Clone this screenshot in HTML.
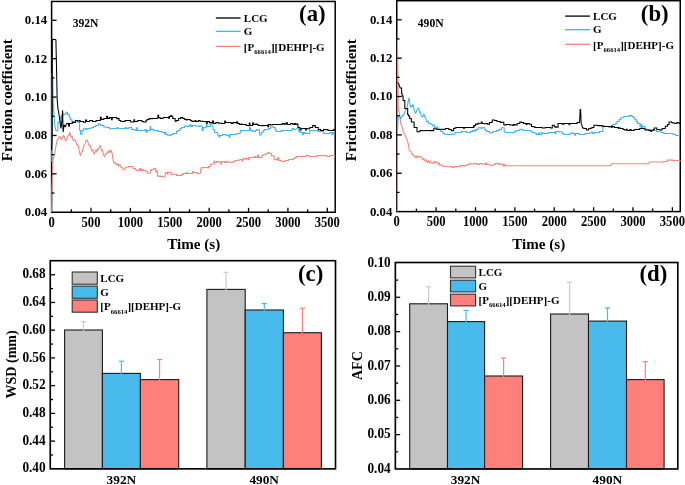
<!DOCTYPE html>
<html><head><meta charset="utf-8"><style>html,body{margin:0;padding:0;background:#fff;overflow:hidden}svg{display:block;will-change:transform}</style></head>
<body><svg width="685" height="485" viewBox="0 0 685 485" font-family="'Liberation Serif', serif" font-weight="bold">
<rect width="685" height="485" fill="#fff"/>
<rect x="51.6" y="1.45" width="283.60" height="210.80" fill="none" stroke="#000" stroke-width="1.5"/>
<path d="M51.60,212.00 L51.90,189.00 L52.80,163.00 L53.61,157.52 L54.55,155.16 L55.40,149.40 L56.06,145.41 L57.30,139.50 L58.13,139.18 L59.10,137.00 L60.12,136.75 L61.00,139.50 L62.18,138.21 L63.50,135.20 L64.88,138.22 L65.30,140.70 L66.50,139.80 L67.20,138.30 L68.33,134.57 L68.96,135.57 L69.70,132.10 L70.90,137.00 L72.15,136.48 L73.39,140.96 L74.10,139.90 L75.42,140.44 L76.86,144.98 L77.80,144.50 L78.52,146.58 L79.99,154.35 L80.60,155.70 L81.47,152.06 L82.42,151.55 L83.54,146.12 L84.96,144.80 L86.20,139.90 L87.57,140.58 L88.77,145.29 L90.15,145.27 L90.80,148.20 L91.91,151.32 L92.70,149.49 L93.82,153.67 L94.50,153.80 L95.87,149.98 L96.55,152.31 L97.52,148.60 L98.38,149.55 L100.10,145.50 L100.74,145.95 L101.38,150.47 L102.28,149.85 L103.80,155.70 L104.85,156.70 L105.73,153.60 L106.87,153.95 L107.65,151.73 L108.80,152.65 L109.44,149.80 L110.32,152.51 L111.20,150.10 L112.14,153.34 L113.21,160.77 L114.00,163.10 L115.10,162.25 L116.55,165.38 L117.54,163.18 L118.35,165.89 L119.83,164.42 L120.50,165.90 L121.11,167.77 L122.23,167.62 L123.30,169.60 L124.47,169.61 L125.63,167.26 L128.27,167.26 L128.27,166.50 L128.70,166.50 L128.70,166.80 L129.56,166.80 L129.56,166.50 L132.96,166.50 L132.96,168.50 L135.36,168.50 L135.36,169.50 L136.10,169.50 L136.10,170.50 L137.90,170.50 L137.90,170.50 L139.72,170.50 L139.72,170.50 L139.72,168.55 L140.45,168.55 L140.45,170.50 L141.70,170.50 L141.70,169.60 L143.14,169.60 L143.14,170.50 L145.83,170.50 L145.83,171.50 L147.30,171.50 L147.30,173.30 L150.35,173.30 L150.35,170.50 L151.61,170.50 L151.61,169.50 L153.80,169.50 L153.80,168.60 L155.82,168.60 L155.82,172.50 L155.82,170.55 L156.92,170.55 L156.92,172.50 L157.50,172.50 L157.50,176.10 L160.63,176.10 L160.63,176.50 L161.66,176.50 L161.66,176.50 L163.00,176.50 L163.00,177.00 L165.20,177.00 L165.20,173.50 L165.80,173.50 L165.80,172.40 L167.38,172.40 L167.38,172.50 L167.38,174.22 L167.99,174.22 L167.99,172.50 L171.33,172.50 L171.33,174.50 L173.20,174.50 L173.20,174.20 L176.57,174.20 L176.57,175.50 L179.38,175.50 L179.38,175.50 L180.70,175.50 L180.70,175.10 L182.28,175.10 L182.28,174.50 L183.26,174.50 L183.26,173.50 L186.20,173.50 L186.20,172.40 L187.12,172.40 L187.12,173.50 L190.42,173.50 L190.42,173.50 L192.77,173.50 L192.77,171.50 L193.60,171.50 L193.60,172.40 L195.21,172.40 L195.21,172.50 L197.13,172.50 L197.13,173.50 L199.20,173.50 L199.20,173.30 L200.68,173.30 L200.68,169.50 L201.10,169.50 L201.10,167.70 L202.85,167.70 L202.85,167.50 L203.70,167.50 L203.70,167.70 L204.96,167.70 L204.96,167.50 L207.94,167.50 L207.94,166.50 L207.94,168.06 L208.70,168.06 L208.70,166.50 L210.23,166.50 L210.23,164.50 L211.10,164.50 L211.10,164.00 L214.00,164.00 L214.00,162.50 L214.00,160.95 L214.63,160.95 L214.63,162.50 L216.73,162.50 L216.73,161.50 L218.60,161.50 L218.60,162.20 L220.72,162.20 L220.72,161.50 L220.72,163.95 L221.67,163.95 L221.67,161.50 L223.45,161.50 L223.45,161.50 L224.58,161.50 L224.58,162.50 L226.41,162.50 L226.41,161.50 L227.80,161.50 L227.80,162.20 L230.23,162.20 L230.23,162.50 L233.20,162.50 L233.20,161.50 L235.00,161.50 L235.00,160.50 L237.10,160.50 L237.10,160.30 L239.77,160.30 L239.77,159.50 L242.02,159.50 L242.02,159.50 L242.02,161.32 L242.70,161.32 L242.70,159.50 L243.57,159.50 L243.57,158.50 L245.88,158.50 L245.88,159.50 L246.40,159.50 L246.40,158.40 L248.63,158.40 L248.63,157.50 L248.63,159.82 L249.29,159.82 L249.29,157.50 L251.68,157.50 L251.68,157.50 L254.57,157.50 L254.57,156.50 L255.70,156.50 L255.70,157.50 L257.42,157.50 L257.42,157.50 L257.42,155.01 L258.52,155.01 L258.52,157.50 L261.90,157.50 L261.90,155.50 L263.10,155.50 L263.10,154.70 L265.97,154.70 L265.97,153.50 L267.06,153.50 L267.06,153.50 L268.03,153.50 L268.03,152.50 L268.60,152.50 L268.60,152.90 L270.05,152.90 L270.05,153.50 L271.40,153.50 L271.40,155.70 L274.20,155.70 L274.20,159.70 L276.06,159.70 L276.06,159.50 L277.81,159.50 L277.81,160.50 L277.81,157.57 L278.66,157.57 L278.66,160.50 L281.10,160.50 L281.10,161.30 L282.33,161.30 L282.33,161.50 L284.95,161.50 L284.95,160.50 L287.49,160.50 L287.49,160.50 L288.60,160.50 L288.60,159.40 L291.42,159.40 L291.42,159.50 L293.42,159.50 L293.42,158.50 L294.94,158.50 L294.94,157.50 L296.59,157.50 L296.59,156.50 L299.70,156.50 L299.70,156.60 L301.30,156.60 L301.30,156.50 L304.40,156.50 L304.40,156.50 L305.79,156.50 L305.79,155.50 L307.62,155.50 L307.62,155.50 L309.29,155.50 L309.29,156.50 L312.77,156.50 L312.77,156.50 L314.83,156.50 L314.83,156.50 L317.14,156.50 L317.14,155.50 L320.25,155.50 L320.25,155.50 L322.00,155.50 L322.00,155.70 L324.06,155.70 L324.06,155.50 L326.80,155.50 L326.80,156.50 L329.91,156.50 L329.91,155.50 L331.40,155.50 L331.40,155.50 L334.60,155.50 L334.60,156.60" fill="none" stroke="#F4857D" stroke-width="1.05" stroke-linejoin="miter" stroke-miterlimit="2"/>
<path d="M51.80,162.00 L52.10,73.80 L52.60,73.80 L53.20,102.40 L54.80,125.50 L56.00,130.80 L57.90,130.80 L57.90,122.20 L60.40,122.20 L60.40,117.20 L61.35,117.20 L61.35,115.50 L62.90,115.50 L62.90,114.10 L65.90,114.10 L65.90,112.30 L67.53,112.30 L67.53,114.50 L68.40,114.50 L68.40,114.80 L69.63,114.80 L69.63,117.50 L70.30,117.50 L70.30,119.70 L72.00,119.70 L72.00,121.60 L74.10,121.60 L74.10,121.30 L76.37,121.30 L76.37,121.50 L77.27,121.50 L77.27,121.50 L77.80,121.50 L77.80,122.30 L79.63,122.30 L79.63,130.50 L80.60,130.50 L80.60,134.30 L82.04,134.30 L82.04,130.50 L83.40,130.50 L83.40,128.80 L85.58,128.80 L85.58,129.50 L86.87,129.50 L86.87,128.50 L89.65,128.50 L89.65,128.50 L90.80,128.50 L90.80,127.80 L92.56,127.80 L92.56,127.50 L93.79,127.50 L93.79,126.50 L95.84,126.50 L95.84,125.50 L98.20,125.50 L98.20,124.10 L100.35,124.10 L100.35,125.50 L103.80,125.50 L103.80,126.90 L107.03,126.90 L107.03,127.50 L109.40,127.50 L109.40,128.80 L112.15,128.80 L112.15,128.50 L113.83,128.50 L113.83,128.50 L116.80,128.50 L116.80,127.80 L118.32,127.80 L118.32,128.50 L121.71,128.50 L121.71,128.50 L123.91,128.50 L123.91,128.50 L125.00,128.50 L125.00,127.80 L126.36,127.80 L126.36,128.50 L128.84,128.50 L128.84,127.50 L131.60,127.50 L131.60,129.50 L134.30,129.50 L134.30,129.70 L135.26,129.70 L135.26,130.50 L136.67,130.50 L136.67,130.50 L136.67,127.75 L137.42,127.75 L137.42,130.50 L138.79,130.50 L138.79,130.50 L141.70,130.50 L141.70,130.60 L142.59,130.60 L142.59,130.50 L145.20,130.50 L145.20,129.50 L146.07,129.50 L146.07,130.50 L146.07,132.18 L147.23,132.18 L147.23,130.50 L150.02,130.50 L150.02,129.50 L150.02,126.83 L150.77,126.83 L150.77,129.50 L152.80,129.50 L152.80,129.30 L153.61,129.30 L153.61,130.50 L156.43,130.50 L156.43,130.50 L158.06,130.50 L158.06,131.50 L158.99,131.50 L158.99,131.50 L161.46,131.50 L161.46,131.50 L162.10,131.50 L162.10,132.50 L164.76,132.50 L164.76,134.50 L164.76,132.24 L165.82,132.24 L165.82,134.50 L167.70,134.50 L167.70,135.30 L169.39,135.30 L169.39,135.50 L170.89,135.50 L170.89,134.50 L173.20,134.50 L173.20,133.40 L176.59,133.40 L176.59,131.50 L177.74,131.50 L177.74,130.50 L179.17,130.50 L179.17,130.50 L180.06,130.50 L180.06,128.50 L180.70,128.50 L180.70,128.80 L181.72,128.80 L181.72,127.50 L184.40,127.50 L184.40,126.00 L186.17,126.00 L186.17,126.50 L189.00,126.50 L189.00,125.50 L190.23,125.50 L190.23,126.50 L190.23,124.87 L190.94,124.87 L190.94,126.50 L192.37,126.50 L192.37,125.50 L194.42,125.50 L194.42,125.50 L195.50,125.50 L195.50,126.00 L198.75,126.00 L198.75,126.50 L200.00,126.50 L200.00,126.00 L202.18,126.00 L202.18,127.50 L202.18,130.37 L203.13,130.37 L203.13,127.50 L203.70,127.50 L203.70,127.80 L206.29,127.80 L206.29,126.50 L206.29,124.11 L207.06,124.11 L207.06,126.50 L210.20,126.50 L210.20,124.10 L212.01,124.10 L212.01,126.50 L213.00,126.50 L213.00,129.70 L214.63,129.70 L214.63,132.50 L215.47,132.50 L215.47,132.50 L217.60,132.50 L217.60,134.90 L218.96,134.90 L218.96,135.50 L218.96,137.02 L219.75,137.02 L219.75,135.50 L222.50,135.50 L222.50,134.50 L223.61,134.50 L223.61,134.50 L224.79,134.50 L224.79,134.50 L226.00,134.50 L226.00,135.30 L227.13,135.30 L227.13,135.50 L228.99,135.50 L228.99,134.50 L228.99,137.14 L230.02,137.14 L230.02,134.50 L232.17,134.50 L232.17,134.50 L235.30,134.50 L235.30,134.30 L236.83,134.30 L236.83,133.50 L240.20,133.50 L240.20,131.50 L240.80,131.50 L240.80,130.60 L242.40,130.60 L242.40,130.50 L243.90,130.50 L243.90,130.50 L247.18,130.50 L247.18,130.50 L248.24,130.50 L248.24,130.50 L249.44,130.50 L249.44,130.50 L249.44,127.66 L250.45,127.66 L250.45,130.50 L252.00,130.50 L252.00,130.60 L252.90,130.60 L252.90,131.50 L255.61,131.50 L255.61,130.50 L256.88,130.50 L256.88,129.50 L257.50,129.50 L257.50,129.70 L259.40,129.70 L259.40,134.90 L261.34,134.90 L261.34,132.50 L263.10,132.50 L263.10,130.60 L264.36,130.60 L264.36,129.50 L265.79,129.50 L265.79,129.50 L268.65,129.50 L268.65,128.50 L270.50,128.50 L270.50,126.90 L273.49,126.90 L273.49,127.50 L274.20,127.50 L274.20,127.50 L275.14,127.50 L275.14,129.50 L276.10,129.50 L276.10,131.50 L278.01,131.50 L278.01,131.50 L280.29,131.50 L280.29,131.50 L281.10,131.50 L281.10,130.60 L284.11,130.60 L284.11,130.50 L285.42,130.50 L285.42,130.50 L288.60,130.50 L288.60,130.50 L290.81,130.50 L290.81,130.50 L292.09,130.50 L292.09,128.50 L293.48,128.50 L293.48,129.50 L294.86,129.50 L294.86,129.50 L296.00,129.50 L296.00,128.80 L298.80,128.80 L298.80,131.60 L300.34,131.60 L300.34,132.50 L302.46,132.50 L302.46,132.50 L302.46,134.70 L303.37,134.70 L303.37,132.50 L304.64,132.50 L304.64,133.50 L305.30,133.50 L305.30,133.00 L307.05,133.00 L307.05,133.50 L309.65,133.50 L309.65,130.50 L312.70,130.50 L312.70,130.60 L315.99,130.60 L315.99,130.50 L318.03,130.50 L318.03,131.50 L319.77,131.50 L319.77,131.50 L322.00,131.50 L322.00,131.60 L323.80,131.60 L323.80,133.40 L326.29,133.40 L326.29,133.50 L327.23,133.50 L327.23,133.50 L329.86,133.50 L329.86,132.50 L331.92,132.50 L331.92,132.50 L331.92,134.82 L332.64,134.82 L332.64,132.50 L333.10,132.50 L333.10,133.40 L334.60,134.30" fill="none" stroke="#3DB3EA" stroke-width="1.05" stroke-linejoin="miter" stroke-miterlimit="2"/>
<path d="M51.60,150.00 L52.20,136.00 L52.30,39.40 L53.46,39.40 L53.46,39.50 L54.95,39.50 L54.95,39.50 L55.90,39.50 L55.90,39.40 L57.20,100.00 L58.00,109.00 L59.10,114.80 L60.40,124.70 L61.00,128.40 L61.90,120.90 L62.60,110.40 L63.10,132.10 L64.10,124.70 L65.30,127.10 L66.60,123.40 L68.40,123.40 L68.40,125.90 L69.45,125.90 L69.45,123.50 L70.30,123.50 L70.30,123.40 L72.30,123.40 L72.30,122.30 L73.11,122.30 L73.11,122.50 L74.52,122.50 L74.52,122.50 L75.41,122.50 L75.41,120.50 L77.50,120.50 L77.50,120.90 L79.33,120.90 L79.33,120.50 L80.21,120.50 L80.21,121.50 L82.35,121.50 L82.35,121.50 L83.40,121.50 L83.40,122.30 L85.44,122.30 L85.44,121.50 L85.44,119.96 L86.64,119.96 L86.64,121.50 L89.76,121.50 L89.76,120.50 L92.51,120.50 L92.51,121.50 L94.45,121.50 L94.45,121.50 L96.07,121.50 L96.07,120.50 L98.20,120.50 L98.20,120.40 L100.36,120.40 L100.36,119.50 L100.36,117.23 L101.21,117.23 L101.21,119.50 L103.80,119.50 L103.80,118.50 L106.70,118.50 L106.70,118.50 L106.70,116.19 L107.61,116.19 L107.61,118.50 L109.40,118.50 L109.40,117.60 L111.52,117.60 L111.52,117.50 L111.52,119.64 L112.22,119.64 L112.22,117.50 L113.64,117.50 L113.64,117.50 L116.80,117.50 L116.80,118.60 L119.08,118.60 L119.08,120.50 L120.50,120.50 L120.50,121.30 L122.25,121.30 L122.25,121.50 L125.00,121.50 L125.00,120.40 L127.77,120.40 L127.77,120.50 L130.60,120.50 L130.60,121.90 L133.93,121.90 L133.93,121.50 L133.93,119.65 L134.57,119.65 L134.57,121.50 L137.72,121.50 L137.72,120.50 L139.80,120.50 L139.80,120.40 L141.91,120.40 L141.91,121.50 L143.60,121.50 L143.60,121.90 L146.08,121.90 L146.08,120.50 L146.96,120.50 L146.96,119.50 L149.10,119.50 L149.10,118.60 L152.22,118.60 L152.22,118.50 L155.23,118.50 L155.23,118.50 L157.85,118.50 L157.85,117.50 L157.85,115.22 L158.62,115.22 L158.62,117.50 L160.14,117.50 L160.14,118.50 L162.10,118.50 L162.10,118.20 L163.35,118.20 L163.35,117.50 L165.93,117.50 L165.93,117.50 L168.62,117.50 L168.62,116.50 L168.62,118.30 L169.47,118.30 L169.47,116.50 L170.78,116.50 L170.78,115.50 L171.40,115.50 L171.40,116.30 L172.76,116.30 L172.76,118.50 L173.62,118.50 L173.62,118.50 L175.10,118.50 L175.10,121.30 L176.33,121.30 L176.33,120.50 L178.60,120.50 L178.60,118.50 L180.70,118.50 L180.70,117.60 L182.89,117.60 L182.89,118.50 L184.76,118.50 L184.76,119.50 L186.20,119.50 L186.20,120.00 L187.16,120.00 L187.16,119.50 L190.32,119.50 L190.32,120.50 L191.96,120.50 L191.96,121.50 L193.60,121.50 L193.60,121.30 L195.08,121.30 L195.08,120.50 L195.98,120.50 L195.98,121.50 L198.32,121.50 L198.32,120.50 L200.00,120.50 L200.00,121.30 L202.70,121.30 L202.70,121.50 L204.44,121.50 L204.44,121.50 L206.41,121.50 L206.41,121.50 L206.41,123.18 L207.31,123.18 L207.31,121.50 L209.30,121.50 L209.30,122.60 L212.45,122.60 L212.45,123.50 L212.45,121.09 L213.54,121.09 L213.54,123.50 L215.86,123.50 L215.86,122.50 L217.38,122.50 L217.38,122.50 L218.60,122.50 L218.60,123.20 L221.87,123.20 L221.87,123.50 L224.74,123.50 L224.74,122.50 L224.74,121.09 L225.44,121.09 L225.44,122.50 L228.70,122.50 L228.70,122.50 L231.12,122.50 L231.12,123.50 L232.84,123.50 L232.84,122.50 L233.40,122.50 L233.40,122.60 L236.78,122.60 L236.78,123.50 L236.78,121.78 L237.62,121.78 L237.62,123.50 L239.45,123.50 L239.45,124.50 L240.80,124.50 L240.80,124.10 L241.91,124.10 L241.91,124.50 L242.92,124.50 L242.92,124.50 L246.29,124.50 L246.29,125.50 L248.20,125.50 L248.20,125.60 L249.31,125.60 L249.31,125.50 L249.31,123.12 L249.92,123.12 L249.92,125.50 L252.53,125.50 L252.53,124.50 L252.53,122.96 L253.60,122.96 L253.60,124.50 L255.70,124.50 L255.70,124.10 L256.94,124.10 L256.94,124.50 L258.17,124.50 L258.17,125.50 L261.20,125.50 L261.20,125.60 L264.18,125.60 L264.18,125.50 L266.46,125.50 L266.46,125.50 L267.82,125.50 L267.82,124.50 L267.82,126.74 L268.62,126.74 L268.62,124.50 L270.50,124.50 L270.50,125.00 L272.38,125.00 L272.38,124.50 L274.80,124.50 L274.80,124.50 L277.72,124.50 L277.72,124.50 L280.86,124.50 L280.86,124.50 L282.16,124.50 L282.16,123.50 L283.93,123.50 L283.93,124.50 L284.90,124.50 L284.90,123.80 L286.31,123.80 L286.31,124.50 L286.31,122.79 L287.42,122.79 L287.42,124.50 L290.63,124.50 L290.63,123.50 L292.90,123.50 L292.90,124.50 L294.37,124.50 L294.37,123.50 L295.36,123.50 L295.36,124.50 L296.00,124.50 L296.00,124.10 L297.90,124.10 L297.90,127.50 L299.97,127.50 L299.97,128.50 L299.97,129.90 L301.14,129.90 L301.14,128.50 L302.40,128.50 L302.40,128.50 L305.42,128.50 L305.42,128.50 L305.42,129.96 L306.15,129.96 L306.15,128.50 L307.10,128.50 L307.10,128.80 L309.85,128.80 L309.85,127.50 L312.70,127.50 L312.70,125.60 L315.31,125.60 L315.31,127.50 L318.30,127.50 L318.30,129.70 L319.65,129.70 L319.65,129.50 L320.59,129.50 L320.59,130.50 L323.49,130.50 L323.49,129.50 L325.70,129.50 L325.70,129.70 L327.18,129.70 L327.18,129.50 L328.00,129.50 L328.00,130.50 L330.12,130.50 L330.12,130.50 L333.55,130.50 L333.55,129.50 L334.60,129.50 L334.60,130.60" fill="none" stroke="#000" stroke-width="1.05" stroke-linejoin="miter" stroke-miterlimit="2"/>
<text transform="translate(47.20,216.15) scale(1,1.04)" font-size="12.8" text-anchor="end">0.04</text>
<line x1="51.60" y1="193.06" x2="54.40" y2="193.06" stroke="#000" stroke-width="1.3"/>
<line x1="51.60" y1="173.86" x2="56.60" y2="173.86" stroke="#000" stroke-width="1.3"/>
<text transform="translate(47.20,177.76) scale(1,1.04)" font-size="12.8" text-anchor="end">0.06</text>
<line x1="51.60" y1="154.67" x2="54.40" y2="154.67" stroke="#000" stroke-width="1.3"/>
<line x1="51.60" y1="135.47" x2="56.60" y2="135.47" stroke="#000" stroke-width="1.3"/>
<text transform="translate(47.20,139.37) scale(1,1.04)" font-size="12.8" text-anchor="end">0.08</text>
<line x1="51.60" y1="116.28" x2="54.40" y2="116.28" stroke="#000" stroke-width="1.3"/>
<line x1="51.60" y1="97.08" x2="56.60" y2="97.08" stroke="#000" stroke-width="1.3"/>
<text transform="translate(47.20,100.98) scale(1,1.04)" font-size="12.8" text-anchor="end">0.10</text>
<line x1="51.60" y1="77.88" x2="54.40" y2="77.88" stroke="#000" stroke-width="1.3"/>
<line x1="51.60" y1="58.69" x2="56.60" y2="58.69" stroke="#000" stroke-width="1.3"/>
<text transform="translate(47.20,62.59) scale(1,1.04)" font-size="12.8" text-anchor="end">0.12</text>
<line x1="51.60" y1="39.49" x2="54.40" y2="39.49" stroke="#000" stroke-width="1.3"/>
<line x1="51.60" y1="20.30" x2="56.60" y2="20.30" stroke="#000" stroke-width="1.3"/>
<text transform="translate(47.20,24.20) scale(1,1.04)" font-size="12.8" text-anchor="end">0.14</text>
<text transform="translate(51.60,226.85) scale(1,1.08)" font-size="12.6" text-anchor="middle">0</text>
<line x1="71.29" y1="212.25" x2="71.29" y2="209.25" stroke="#000" stroke-width="1.3"/>
<line x1="90.99" y1="212.25" x2="90.99" y2="207.85" stroke="#000" stroke-width="1.3"/>
<text transform="translate(90.99,226.85) scale(1,1.08)" font-size="12.6" text-anchor="middle">500</text>
<line x1="110.68" y1="212.25" x2="110.68" y2="209.25" stroke="#000" stroke-width="1.3"/>
<line x1="130.38" y1="212.25" x2="130.38" y2="207.85" stroke="#000" stroke-width="1.3"/>
<text transform="translate(130.38,226.85) scale(1,1.08)" font-size="12.6" text-anchor="middle">1000</text>
<line x1="150.07" y1="212.25" x2="150.07" y2="209.25" stroke="#000" stroke-width="1.3"/>
<line x1="169.77" y1="212.25" x2="169.77" y2="207.85" stroke="#000" stroke-width="1.3"/>
<text transform="translate(169.77,226.85) scale(1,1.08)" font-size="12.6" text-anchor="middle">1500</text>
<line x1="189.46" y1="212.25" x2="189.46" y2="209.25" stroke="#000" stroke-width="1.3"/>
<line x1="209.16" y1="212.25" x2="209.16" y2="207.85" stroke="#000" stroke-width="1.3"/>
<text transform="translate(209.16,226.85) scale(1,1.08)" font-size="12.6" text-anchor="middle">2000</text>
<line x1="228.85" y1="212.25" x2="228.85" y2="209.25" stroke="#000" stroke-width="1.3"/>
<line x1="248.54" y1="212.25" x2="248.54" y2="207.85" stroke="#000" stroke-width="1.3"/>
<text transform="translate(248.54,226.85) scale(1,1.08)" font-size="12.6" text-anchor="middle">2500</text>
<line x1="268.24" y1="212.25" x2="268.24" y2="209.25" stroke="#000" stroke-width="1.3"/>
<line x1="287.93" y1="212.25" x2="287.93" y2="207.85" stroke="#000" stroke-width="1.3"/>
<text transform="translate(287.93,226.85) scale(1,1.08)" font-size="12.6" text-anchor="middle">3000</text>
<line x1="307.63" y1="212.25" x2="307.63" y2="209.25" stroke="#000" stroke-width="1.3"/>
<line x1="327.32" y1="212.25" x2="327.32" y2="207.85" stroke="#000" stroke-width="1.3"/>
<text transform="translate(327.32,226.85) scale(1,1.08)" font-size="12.6" text-anchor="middle">3500</text>
<text x="193.70" y="249.30" font-size="15.1" text-anchor="middle" >Time (s)</text>
<text transform="translate(11.5,100.2) rotate(-90)" font-size="15.1" text-anchor="middle">Friction coefficient</text>
<text x="72.70" y="26.90" font-size="11.6" text-anchor="start" >392N</text>
<line x1="215.80" y1="18.00" x2="240.60" y2="18.00" stroke="#000" stroke-width="1.3"/>
<line x1="215.80" y1="31.40" x2="240.60" y2="31.40" stroke="#3DB3EA" stroke-width="1.3"/>
<line x1="215.80" y1="46.40" x2="240.60" y2="46.40" stroke="#F4857D" stroke-width="1.3"/>
<text x="243.80" y="21.60" font-size="11" text-anchor="start" >LCG</text>
<text x="243.80" y="35.00" font-size="11" text-anchor="start" >G</text>
<text x="243.80" y="50.60" font-size="11">[P<tspan font-size="6.7" dy="3.7">66614</tspan><tspan dy="-3.7">][DEHP]-G</tspan></text>
<text x="299.10" y="21.30" font-size="22.8" text-anchor="start" >(a)</text>
<rect x="396.75" y="0.7" width="283.50" height="210.90" fill="none" stroke="#000" stroke-width="1.5"/>
<path d="M397.30,211.70 L397.40,38.70 L397.90,70.00 L398.30,107.70 L399.61,114.23 L400.65,122.45 L401.20,125.00 L402.40,127.60 L403.68,133.20 L404.10,133.60 L404.95,134.00 L406.20,138.69 L407.00,139.40 L408.21,143.73 L409.31,150.19 L409.80,150.90 L411.12,151.48 L412.48,155.26 L413.17,154.07 L414.10,156.60 L415.10,157.15 L415.88,155.48 L416.74,158.05 L417.87,155.94 L419.06,157.43 L419.90,156.60 L421.32,156.66 L422.50,159.71 L423.82,158.03 L424.45,160.80 L425.70,160.90 L426.57,160.06 L427.25,162.68 L428.33,161.02 L429.52,162.68 L430.30,161.15 L431.40,162.40 L432.19,163.69 L433.70,162.20 L434.31,161.08 L434.93,163.30 L436.34,161.74 L437.40,163.10 L438.34,164.42 L439.05,162.40 L439.70,165.11 L441.10,165.11 L441.10,164.90 L442.97,164.90 L442.97,166.50 L446.70,166.50 L446.70,166.80 L449.91,166.80 L449.91,166.50 L451.92,166.50 L451.92,167.50 L454.11,167.50 L454.11,166.50 L456.00,166.50 L456.00,166.80 L457.03,166.80 L457.03,166.50 L459.15,166.50 L459.15,166.50 L460.01,166.50 L460.01,165.50 L461.78,165.50 L461.78,165.50 L463.40,165.50 L463.40,165.90 L464.89,165.90 L464.89,165.50 L467.34,165.50 L467.34,164.50 L469.43,164.50 L469.43,163.50 L470.80,163.50 L470.80,164.00 L473.77,164.00 L473.77,163.50 L477.19,163.50 L477.19,164.50 L479.62,164.50 L479.62,163.50 L482.00,163.50 L482.00,164.00 L484.94,164.00 L484.94,164.50 L485.76,164.50 L485.76,164.50 L485.76,163.01 L486.70,163.01 L486.70,164.50 L489.40,164.50 L489.40,164.90 L491.20,164.90 L491.20,165.50 L493.59,165.50 L493.59,164.50 L495.12,164.50 L495.12,163.50 L498.08,163.50 L498.08,164.50 L498.08,163.48 L498.90,163.48 L498.90,164.50 L500.09,164.50 L500.09,164.50 L500.50,164.50 L500.50,164.00 L503.00,164.00 L503.00,164.50 L503.00,165.86 L504.14,165.86 L504.14,164.50 L505.00,164.50 L505.00,165.70 L610.60,165.70 L610.60,165.70 L611.50,163.80 L648.60,163.80 L648.60,163.30 L649.60,162.00 L663.50,162.00 L663.50,161.40 L667.20,161.40 L667.20,160.10 L672.80,160.10 L672.80,160.50 L680.00,160.50 L680.00,161.40" fill="none" stroke="#F4857D" stroke-width="1.05" stroke-linejoin="miter" stroke-miterlimit="2"/>
<path d="M397.50,130.70 L398.30,116.30 L399.46,115.67 L400.78,119.02 L401.20,117.80 L402.63,115.20 L403.65,115.61 L404.10,113.50 L405.51,110.11 L406.53,109.34 L407.00,107.70 L408.12,101.60 L409.00,97.60 L409.85,104.07 L410.70,107.70 L411.44,105.33 L412.17,106.67 L412.70,104.80 L413.30,105.24 L414.09,109.65 L415.60,113.50 L416.99,109.98 L418.50,107.70 L419.59,112.20 L420.37,112.00 L421.30,116.30 L422.77,116.98 L423.64,114.34 L424.20,114.90 L424.93,117.23 L425.80,117.79 L426.41,121.54 L427.10,122.10 L427.98,121.25 L429.01,123.87 L430.00,123.60 L431.23,123.82 L432.71,125.67 L433.99,124.61 L434.60,127.59 L435.60,127.59 L435.60,126.90 L437.96,126.90 L437.96,128.50 L439.30,128.50 L439.30,129.70 L440.76,129.70 L440.76,131.50 L442.95,131.50 L442.95,133.50 L444.80,133.50 L444.80,134.30 L447.19,134.30 L447.19,134.50 L448.79,134.50 L448.79,134.50 L450.15,134.50 L450.15,134.50 L451.35,134.50 L451.35,134.50 L452.30,134.50 L452.30,134.30 L454.95,134.30 L454.95,132.50 L456.00,132.50 L456.00,132.50 L458.75,132.50 L458.75,132.50 L461.49,132.50 L461.49,131.50 L464.79,131.50 L464.79,131.50 L466.51,131.50 L466.51,132.50 L467.10,132.50 L467.10,132.50 L470.54,132.50 L470.54,131.50 L472.25,131.50 L472.25,130.50 L472.70,130.50 L472.70,131.20 L473.86,131.20 L473.86,130.50 L475.11,130.50 L475.11,129.50 L475.11,130.94 L475.99,130.94 L475.99,129.50 L478.20,129.50 L478.20,127.80 L481.30,127.80 L481.30,128.50 L482.00,128.50 L482.00,127.80 L484.77,127.80 L484.77,129.50 L485.70,129.50 L485.70,130.60 L486.90,130.60 L486.90,131.50 L489.40,131.50 L489.40,133.00 L491.89,133.00 L491.89,132.50 L492.93,132.50 L492.93,131.50 L494.90,131.50 L494.90,131.50 L496.68,131.50 L496.68,130.50 L499.35,130.50 L499.35,129.50 L501.40,129.50 L501.40,127.80 L504.20,127.80 L504.20,131.50 L505.00,132.30 L506.56,132.30 L506.56,132.50 L509.22,132.50 L509.22,132.50 L511.78,132.50 L511.78,132.50 L512.40,132.50 L512.40,132.70 L514.55,132.70 L514.55,131.50 L516.09,131.50 L516.09,130.50 L517.99,130.50 L517.99,130.50 L519.80,130.50 L519.80,129.30 L521.81,129.30 L521.81,129.50 L523.00,129.50 L523.00,130.50 L524.77,130.50 L524.77,130.50 L525.79,130.50 L525.79,130.50 L528.25,130.50 L528.25,130.50 L529.10,130.50 L529.10,130.40 L530.72,130.40 L530.72,131.50 L532.25,131.50 L532.25,132.50 L532.80,132.50 L532.80,132.70 L535.28,132.70 L535.28,133.50 L536.57,133.50 L536.57,134.50 L537.50,134.50 L537.50,134.50 L538.75,134.50 L538.75,134.50 L538.75,132.85 L539.68,132.85 L539.68,134.50 L541.60,134.50 L541.60,132.50 L542.10,132.50 L542.10,133.00 L543.45,133.00 L543.45,133.50 L545.20,133.50 L545.20,133.50 L548.34,133.50 L548.34,132.50 L551.74,132.50 L551.74,132.50 L553.34,132.50 L553.34,132.50 L554.93,132.50 L554.93,131.50 L554.93,133.52 L555.92,133.52 L555.92,131.50 L557.71,131.50 L557.71,131.50 L558.80,131.50 L558.80,131.70 L562.18,131.70 L562.18,133.50 L563.93,133.50 L563.93,134.50 L564.40,134.50 L564.40,134.50 L566.08,134.50 L566.08,134.50 L568.04,134.50 L568.04,134.50 L570.13,134.50 L570.13,133.50 L571.80,133.50 L571.80,133.00 L573.03,133.00 L573.03,133.50 L574.64,133.50 L574.64,133.50 L574.64,135.16 L575.41,135.16 L575.41,133.50 L577.50,133.50 L577.50,133.50 L579.20,133.50 L579.20,134.50 L580.79,134.50 L580.79,134.50 L581.63,134.50 L581.63,134.50 L584.95,134.50 L584.95,133.50 L586.47,133.50 L586.47,133.50 L588.07,133.50 L588.07,133.50 L589.30,133.50 L589.30,133.00 L591.73,133.00 L591.73,133.50 L591.73,132.05 L592.65,132.05 L592.65,133.50 L594.36,133.50 L594.36,132.50 L596.41,132.50 L596.41,132.50 L598.60,132.50 L598.60,132.70 L599.50,132.70 L599.50,131.50 L602.77,131.50 L602.77,127.50 L603.20,127.50 L603.20,126.20 L606.10,126.20 L606.10,126.50 L608.81,126.50 L608.81,127.50 L609.70,127.50 L609.70,127.10 L611.54,127.10 L611.54,125.50 L612.87,125.50 L612.87,124.50 L613.85,124.50 L613.85,124.50 L614.30,124.50 L614.30,124.30 L615.87,124.30 L615.87,123.50 L617.06,123.50 L617.06,121.50 L619.20,121.50 L619.20,119.50 L620.80,119.50 L620.80,117.80 L623.79,117.80 L623.79,116.50 L626.80,116.50 L626.80,116.50 L627.67,116.50 L627.67,116.50 L629.20,116.50 L629.20,115.60 L631.89,115.60 L631.89,116.50 L633.29,116.50 L633.29,117.50 L633.80,117.50 L633.80,117.80 L634.96,117.80 L634.96,119.50 L636.17,119.50 L636.17,121.50 L637.50,121.50 L637.50,123.40 L639.98,123.40 L639.98,124.50 L639.98,126.45 L640.75,126.45 L640.75,124.50 L641.20,124.50 L641.20,125.30 L642.32,125.30 L642.32,126.50 L643.15,126.50 L643.15,126.50 L644.90,126.50 L644.90,129.00 L646.65,129.00 L646.65,129.50 L647.83,129.50 L647.83,129.50 L650.50,129.50 L650.50,129.90 L652.08,129.90 L652.08,130.50 L653.48,130.50 L653.48,130.50 L656.53,130.50 L656.53,131.50 L657.90,131.50 L657.90,131.70 L661.03,131.70 L661.03,132.50 L662.19,132.50 L662.19,132.50 L663.50,132.50 L663.50,133.00 L664.40,133.00 L664.40,133.50 L666.42,133.50 L666.42,133.50 L669.82,133.50 L669.82,133.50 L672.09,133.50 L672.09,133.50 L672.80,133.50 L672.80,134.20 L674.76,134.20 L674.76,134.50 L675.79,134.50 L675.79,135.50 L677.16,135.50 L677.16,135.50 L680.00,135.50 L680.00,135.50" fill="none" stroke="#3DB3EA" stroke-width="1.05" stroke-linejoin="miter" stroke-miterlimit="2"/>
<path d="M397.60,82.50 L398.60,83.50 L400.20,88.00 L401.64,88.00 L401.64,93.50 L402.10,93.50 L402.10,96.00 L403.08,96.00 L403.08,100.50 L404.80,100.50 L404.80,108.50 L407.67,108.50 L407.67,114.50 L408.40,114.50 L408.40,116.00 L409.67,116.00 L409.67,118.50 L411.30,118.50 L411.30,122.00 L414.10,122.00 L414.10,127.50 L417.00,127.50 L417.00,131.80 L419.96,131.80 L419.96,130.50 L422.80,130.50 L422.80,130.70 L425.58,130.70 L425.58,130.50 L426.61,130.50 L426.61,130.50 L428.78,130.50 L428.78,130.50 L430.00,130.50 L430.00,130.60 L433.70,130.60 L433.70,128.80 L436.84,128.80 L436.84,129.50 L440.09,129.50 L440.09,129.50 L441.10,129.50 L441.10,129.30 L443.27,129.30 L443.27,129.50 L445.24,129.50 L445.24,128.50 L448.60,128.50 L448.60,129.30 L449.52,129.30 L449.52,129.50 L451.30,129.50 L451.30,130.60 L453.54,130.60 L453.54,128.50 L455.00,128.50 L455.00,127.80 L456.33,127.80 L456.33,127.50 L458.84,127.50 L458.84,127.50 L461.65,127.50 L461.65,127.50 L463.40,127.50 L463.40,128.20 L464.47,128.20 L464.47,127.50 L467.34,127.50 L467.34,127.50 L469.03,127.50 L469.03,127.50 L469.95,127.50 L469.95,127.50 L470.80,127.50 L470.80,127.50 L473.58,127.50 L473.58,125.50 L473.58,126.60 L474.28,126.60 L474.28,125.50 L475.50,125.50 L475.50,124.10 L478.20,124.10 L478.20,123.20 L481.35,123.20 L481.35,123.50 L481.35,121.92 L482.12,121.92 L482.12,123.50 L483.80,123.50 L483.80,123.70 L486.22,123.70 L486.22,123.50 L487.50,123.50 L487.50,124.10 L489.53,124.10 L489.53,122.50 L492.20,122.50 L492.20,120.00 L494.54,120.00 L494.54,120.50 L496.80,120.50 L496.80,121.30 L497.91,121.30 L497.91,121.50 L500.31,121.50 L500.31,122.50 L501.40,122.50 L501.40,122.30 L503.77,122.30 L503.77,124.50 L504.20,124.50 L504.20,125.00 L506.29,125.00 L506.29,124.50 L507.19,124.50 L507.19,124.50 L509.80,124.50 L509.80,125.00 L512.84,125.00 L512.84,124.50 L512.84,125.55 L513.76,125.55 L513.76,124.50 L515.20,124.50 L515.20,124.90 L517.13,124.90 L517.13,123.50 L519.80,123.50 L519.80,121.90 L521.45,121.90 L521.45,122.50 L523.60,122.50 L523.60,123.40 L526.16,123.40 L526.16,124.50 L527.07,124.50 L527.07,123.50 L529.10,123.50 L529.10,124.30 L531.45,124.30 L531.45,126.50 L532.80,126.50 L532.80,126.70 L534.87,126.70 L534.87,127.50 L536.81,127.50 L536.81,127.50 L539.77,127.50 L539.77,127.50 L542.10,127.50 L542.10,128.00 L545.22,128.00 L545.22,127.50 L546.53,127.50 L546.53,127.50 L549.41,127.50 L549.41,127.50 L550.50,127.50 L550.50,128.00 L552.30,128.00 L552.30,125.30 L554.35,125.30 L554.35,126.50 L555.10,126.50 L555.10,127.10 L558.05,127.10 L558.05,123.50 L558.80,123.50 L558.80,123.40 L560.29,123.40 L560.29,123.50 L562.50,123.50 L562.50,124.30 L563.90,124.30 L563.90,123.50 L565.14,123.50 L565.14,123.50 L567.46,123.50 L567.46,123.50 L568.10,123.50 L568.10,123.40 L569.11,123.40 L569.11,123.50 L569.11,124.84 L569.80,124.84 L569.80,123.50 L571.58,123.50 L571.58,123.50 L572.40,123.50 L572.40,123.50 L573.43,123.50 L573.43,123.50 L575.50,123.50 L575.50,123.40 L577.14,123.40 L577.14,122.50 L579.60,122.50 L579.60,121.50 L580.20,109.50 L580.60,109.50 L581.20,123.40 L582.80,128.00 L583.86,128.00 L583.86,128.50 L586.50,128.50 L586.50,129.90 L588.68,129.90 L588.68,128.50 L591.10,128.50 L591.10,128.00 L592.08,128.00 L592.08,127.50 L593.90,127.50 L593.90,125.30 L596.96,125.30 L596.96,125.50 L598.60,125.50 L598.60,125.60 L601.76,125.60 L601.76,125.50 L602.30,125.50 L602.30,126.20 L604.01,126.20 L604.01,126.50 L606.73,126.50 L606.73,126.50 L609.00,126.50 L609.00,126.50 L611.50,126.50 L611.50,127.10 L612.50,127.10 L612.50,126.50 L614.27,126.50 L614.27,127.50 L616.76,127.50 L616.76,127.50 L618.41,127.50 L618.41,128.50 L619.00,128.50 L619.00,128.00 L620.63,128.00 L620.63,128.50 L623.08,128.50 L623.08,129.50 L624.50,129.50 L624.50,129.90 L626.28,129.90 L626.28,130.50 L626.28,129.16 L627.28,129.16 L627.28,130.50 L629.76,130.50 L629.76,129.50 L631.10,129.50 L631.10,130.50 L633.80,130.50 L633.80,129.90 L634.81,129.90 L634.81,129.50 L636.50,129.50 L636.50,129.50 L639.68,129.50 L639.68,128.50 L641.20,128.50 L641.20,128.00 L642.24,128.00 L642.24,128.50 L643.31,128.50 L643.31,128.50 L644.90,128.50 L644.90,129.90 L648.38,129.90 L648.38,130.50 L650.50,130.50 L650.50,131.20 L651.76,131.20 L651.76,130.50 L653.16,130.50 L653.16,129.50 L654.20,129.50 L654.20,128.00 L656.86,128.00 L656.86,129.50 L658.98,129.50 L658.98,129.50 L659.80,129.50 L659.80,129.90 L662.05,129.90 L662.05,128.50 L665.30,128.50 L665.30,126.20 L667.47,126.20 L667.47,124.50 L669.10,124.50 L669.10,121.90 L671.49,121.90 L671.49,122.50 L672.80,122.50 L672.80,123.00 L675.12,123.00 L675.12,123.50 L676.96,123.50 L676.96,122.50 L679.00,122.50 L679.00,123.50 L680.00,123.50 L680.00,123.40" fill="none" stroke="#000" stroke-width="1.05" stroke-linejoin="miter" stroke-miterlimit="2"/>
<text transform="translate(392.35,215.50) scale(1,1.04)" font-size="12.8" text-anchor="end">0.04</text>
<line x1="396.75" y1="192.42" x2="399.55" y2="192.42" stroke="#000" stroke-width="1.3"/>
<line x1="396.75" y1="173.24" x2="401.75" y2="173.24" stroke="#000" stroke-width="1.3"/>
<text transform="translate(392.35,177.14) scale(1,1.04)" font-size="12.8" text-anchor="end">0.06</text>
<line x1="396.75" y1="154.06" x2="399.55" y2="154.06" stroke="#000" stroke-width="1.3"/>
<line x1="396.75" y1="134.88" x2="401.75" y2="134.88" stroke="#000" stroke-width="1.3"/>
<text transform="translate(392.35,138.78) scale(1,1.04)" font-size="12.8" text-anchor="end">0.08</text>
<line x1="396.75" y1="115.70" x2="399.55" y2="115.70" stroke="#000" stroke-width="1.3"/>
<line x1="396.75" y1="96.52" x2="401.75" y2="96.52" stroke="#000" stroke-width="1.3"/>
<text transform="translate(392.35,100.42) scale(1,1.04)" font-size="12.8" text-anchor="end">0.10</text>
<line x1="396.75" y1="77.34" x2="399.55" y2="77.34" stroke="#000" stroke-width="1.3"/>
<line x1="396.75" y1="58.16" x2="401.75" y2="58.16" stroke="#000" stroke-width="1.3"/>
<text transform="translate(392.35,62.06) scale(1,1.04)" font-size="12.8" text-anchor="end">0.12</text>
<line x1="396.75" y1="38.98" x2="399.55" y2="38.98" stroke="#000" stroke-width="1.3"/>
<line x1="396.75" y1="19.80" x2="401.75" y2="19.80" stroke="#000" stroke-width="1.3"/>
<text transform="translate(392.35,23.70) scale(1,1.04)" font-size="12.8" text-anchor="end">0.14</text>
<text transform="translate(396.75,226.20) scale(1,1.08)" font-size="12.6" text-anchor="middle">0</text>
<line x1="416.44" y1="211.60" x2="416.44" y2="208.60" stroke="#000" stroke-width="1.3"/>
<line x1="436.12" y1="211.60" x2="436.12" y2="207.20" stroke="#000" stroke-width="1.3"/>
<text transform="translate(436.12,226.20) scale(1,1.08)" font-size="12.6" text-anchor="middle">500</text>
<line x1="455.81" y1="211.60" x2="455.81" y2="208.60" stroke="#000" stroke-width="1.3"/>
<line x1="475.50" y1="211.60" x2="475.50" y2="207.20" stroke="#000" stroke-width="1.3"/>
<text transform="translate(475.50,226.20) scale(1,1.08)" font-size="12.6" text-anchor="middle">1000</text>
<line x1="495.19" y1="211.60" x2="495.19" y2="208.60" stroke="#000" stroke-width="1.3"/>
<line x1="514.88" y1="211.60" x2="514.88" y2="207.20" stroke="#000" stroke-width="1.3"/>
<text transform="translate(514.88,226.20) scale(1,1.08)" font-size="12.6" text-anchor="middle">1500</text>
<line x1="534.56" y1="211.60" x2="534.56" y2="208.60" stroke="#000" stroke-width="1.3"/>
<line x1="554.25" y1="211.60" x2="554.25" y2="207.20" stroke="#000" stroke-width="1.3"/>
<text transform="translate(554.25,226.20) scale(1,1.08)" font-size="12.6" text-anchor="middle">2000</text>
<line x1="573.94" y1="211.60" x2="573.94" y2="208.60" stroke="#000" stroke-width="1.3"/>
<line x1="593.62" y1="211.60" x2="593.62" y2="207.20" stroke="#000" stroke-width="1.3"/>
<text transform="translate(593.62,226.20) scale(1,1.08)" font-size="12.6" text-anchor="middle">2500</text>
<line x1="613.31" y1="211.60" x2="613.31" y2="208.60" stroke="#000" stroke-width="1.3"/>
<line x1="633.00" y1="211.60" x2="633.00" y2="207.20" stroke="#000" stroke-width="1.3"/>
<text transform="translate(633.00,226.20) scale(1,1.08)" font-size="12.6" text-anchor="middle">3000</text>
<line x1="652.69" y1="211.60" x2="652.69" y2="208.60" stroke="#000" stroke-width="1.3"/>
<line x1="672.38" y1="211.60" x2="672.38" y2="207.20" stroke="#000" stroke-width="1.3"/>
<text transform="translate(672.38,226.20) scale(1,1.08)" font-size="12.6" text-anchor="middle">3500</text>
<text x="538.80" y="249.30" font-size="15.1" text-anchor="middle" >Time (s)</text>
<text transform="translate(355.6,100.2) rotate(-90)" font-size="15.1" text-anchor="middle">Friction coefficient</text>
<text x="417.80" y="26.90" font-size="11.6" text-anchor="start" >490N</text>
<line x1="565.10" y1="16.10" x2="589.90" y2="16.10" stroke="#000" stroke-width="1.3"/>
<line x1="565.10" y1="29.70" x2="589.90" y2="29.70" stroke="#3DB3EA" stroke-width="1.3"/>
<line x1="565.10" y1="44.30" x2="589.90" y2="44.30" stroke="#F4857D" stroke-width="1.3"/>
<text x="593.10" y="19.70" font-size="11" text-anchor="start" >LCG</text>
<text x="593.10" y="33.30" font-size="11" text-anchor="start" >G</text>
<text x="593.10" y="48.50" font-size="11">[P<tspan font-size="6.7" dy="3.7">66614</tspan><tspan dy="-3.7">][DEHP]-G</tspan></text>
<text x="640.80" y="21.30" font-size="22.8" text-anchor="start" >(b)</text>
<rect x="64.60" y="330.00" width="37.80" height="138.85" fill="#C3C3C3" stroke="#1a1a1a" stroke-width="1.1"/>
<rect x="102.40" y="373.40" width="38.00" height="95.45" fill="#48BAEC" stroke="#1a1a1a" stroke-width="1.1"/>
<rect x="140.40" y="379.60" width="38.30" height="89.25" fill="#FF7F7A" stroke="#1a1a1a" stroke-width="1.1"/>
<rect x="206.90" y="289.40" width="38.30" height="179.45" fill="#C3C3C3" stroke="#1a1a1a" stroke-width="1.1"/>
<rect x="245.20" y="310.00" width="38.20" height="158.85" fill="#48BAEC" stroke="#1a1a1a" stroke-width="1.1"/>
<rect x="283.40" y="332.70" width="38.00" height="136.15" fill="#FF7F7A" stroke="#1a1a1a" stroke-width="1.1"/>
<line x1="83.50" y1="331.60" x2="83.50" y2="321.70" stroke="#CBCBCB" stroke-width="1.2"/>
<line x1="80.90" y1="321.70" x2="86.10" y2="321.70" stroke="#CBCBCB" stroke-width="1.2"/>
<line x1="121.40" y1="375.00" x2="121.40" y2="361.20" stroke="#48BAEC" stroke-width="1.2"/>
<line x1="118.80" y1="361.20" x2="124.00" y2="361.20" stroke="#48BAEC" stroke-width="1.2"/>
<line x1="159.55" y1="381.20" x2="159.55" y2="359.50" stroke="#FF7F7A" stroke-width="1.2"/>
<line x1="156.95" y1="359.50" x2="162.15" y2="359.50" stroke="#FF7F7A" stroke-width="1.2"/>
<line x1="226.05" y1="291.00" x2="226.05" y2="272.30" stroke="#CBCBCB" stroke-width="1.2"/>
<line x1="223.45" y1="272.30" x2="228.65" y2="272.30" stroke="#CBCBCB" stroke-width="1.2"/>
<line x1="264.30" y1="311.60" x2="264.30" y2="303.50" stroke="#48BAEC" stroke-width="1.2"/>
<line x1="261.70" y1="303.50" x2="266.90" y2="303.50" stroke="#48BAEC" stroke-width="1.2"/>
<line x1="302.40" y1="334.30" x2="302.40" y2="308.20" stroke="#FF7F7A" stroke-width="1.2"/>
<line x1="299.80" y1="308.20" x2="305.00" y2="308.20" stroke="#FF7F7A" stroke-width="1.2"/>
<rect x="50.25" y="260.7" width="285.25" height="208.15" fill="none" stroke="#000" stroke-width="1.65"/>
<text transform="translate(45.65,472.45) scale(1,1.09)" font-size="13.3" text-anchor="end">0.40</text>
<line x1="50.25" y1="441.12" x2="55.05" y2="441.12" stroke="#000" stroke-width="1.3"/>
<text transform="translate(45.65,444.72) scale(1,1.09)" font-size="13.3" text-anchor="end">0.44</text>
<line x1="50.25" y1="413.39" x2="55.05" y2="413.39" stroke="#000" stroke-width="1.3"/>
<text transform="translate(45.65,416.99) scale(1,1.09)" font-size="13.3" text-anchor="end">0.48</text>
<line x1="50.25" y1="385.65" x2="55.05" y2="385.65" stroke="#000" stroke-width="1.3"/>
<text transform="translate(45.65,389.25) scale(1,1.09)" font-size="13.3" text-anchor="end">0.52</text>
<line x1="50.25" y1="357.92" x2="55.05" y2="357.92" stroke="#000" stroke-width="1.3"/>
<text transform="translate(45.65,361.52) scale(1,1.09)" font-size="13.3" text-anchor="end">0.56</text>
<line x1="50.25" y1="330.19" x2="55.05" y2="330.19" stroke="#000" stroke-width="1.3"/>
<text transform="translate(45.65,333.79) scale(1,1.09)" font-size="13.3" text-anchor="end">0.60</text>
<line x1="50.25" y1="302.46" x2="55.05" y2="302.46" stroke="#000" stroke-width="1.3"/>
<text transform="translate(45.65,306.06) scale(1,1.09)" font-size="13.3" text-anchor="end">0.64</text>
<line x1="50.25" y1="274.73" x2="55.05" y2="274.73" stroke="#000" stroke-width="1.3"/>
<text transform="translate(45.65,278.33) scale(1,1.09)" font-size="13.3" text-anchor="end">0.68</text>
<line x1="50.25" y1="454.98" x2="53.05" y2="454.98" stroke="#000" stroke-width="1.3"/>
<line x1="50.25" y1="427.25" x2="53.05" y2="427.25" stroke="#000" stroke-width="1.3"/>
<line x1="50.25" y1="399.52" x2="53.05" y2="399.52" stroke="#000" stroke-width="1.3"/>
<line x1="50.25" y1="371.79" x2="53.05" y2="371.79" stroke="#000" stroke-width="1.3"/>
<line x1="50.25" y1="344.06" x2="53.05" y2="344.06" stroke="#000" stroke-width="1.3"/>
<line x1="50.25" y1="316.32" x2="53.05" y2="316.32" stroke="#000" stroke-width="1.3"/>
<line x1="50.25" y1="288.59" x2="53.05" y2="288.59" stroke="#000" stroke-width="1.3"/>
<text transform="translate(16.3,364.4) rotate(-90)" font-size="14" text-anchor="middle">WSD (mm)</text>
<rect x="72.20" y="272.00" width="25.1" height="12.2" fill="#C3C3C3" stroke="#333" stroke-width="1.1"/>
<rect x="72.20" y="286.10" width="25.1" height="12.2" fill="#48BAEC" stroke="#333" stroke-width="1.1"/>
<rect x="72.20" y="300.00" width="25.1" height="12.2" fill="#FF7F7A" stroke="#333" stroke-width="1.1"/>
<text x="100.30" y="281.90" font-size="11" text-anchor="start" >LCG</text>
<text x="100.30" y="296.00" font-size="11" text-anchor="start" >G</text>
<text x="100.30" y="309.90" font-size="11">[P<tspan font-size="6.7" dy="3.7">66614</tspan><tspan dy="-3.7">][DEHP]-G</tspan></text>
<text x="298.00" y="281.10" font-size="22.8" text-anchor="start" >(c)</text>
<text x="121.40" y="484.00" font-size="13.3" text-anchor="middle" >392N</text>
<text x="264.20" y="484.00" font-size="13.3" text-anchor="middle" >490N</text>
<rect x="409.70" y="303.80" width="37.80" height="165.15" fill="#C3C3C3" stroke="#1a1a1a" stroke-width="1.1"/>
<rect x="447.50" y="321.60" width="37.10" height="147.35" fill="#48BAEC" stroke="#1a1a1a" stroke-width="1.1"/>
<rect x="484.60" y="376.00" width="38.00" height="92.95" fill="#FF7F7A" stroke="#1a1a1a" stroke-width="1.1"/>
<rect x="550.60" y="314.00" width="37.90" height="154.95" fill="#C3C3C3" stroke="#1a1a1a" stroke-width="1.1"/>
<rect x="588.50" y="321.10" width="38.00" height="147.85" fill="#48BAEC" stroke="#1a1a1a" stroke-width="1.1"/>
<rect x="626.50" y="379.60" width="37.60" height="89.35" fill="#FF7F7A" stroke="#1a1a1a" stroke-width="1.1"/>
<line x1="428.60" y1="305.40" x2="428.60" y2="286.80" stroke="#CBCBCB" stroke-width="1.2"/>
<line x1="426.00" y1="286.80" x2="431.20" y2="286.80" stroke="#CBCBCB" stroke-width="1.2"/>
<line x1="466.05" y1="323.20" x2="466.05" y2="310.40" stroke="#48BAEC" stroke-width="1.2"/>
<line x1="463.45" y1="310.40" x2="468.65" y2="310.40" stroke="#48BAEC" stroke-width="1.2"/>
<line x1="503.60" y1="377.60" x2="503.60" y2="358.00" stroke="#FF7F7A" stroke-width="1.2"/>
<line x1="501.00" y1="358.00" x2="506.20" y2="358.00" stroke="#FF7F7A" stroke-width="1.2"/>
<line x1="569.55" y1="315.60" x2="569.55" y2="282.40" stroke="#CBCBCB" stroke-width="1.2"/>
<line x1="566.95" y1="282.40" x2="572.15" y2="282.40" stroke="#CBCBCB" stroke-width="1.2"/>
<line x1="607.50" y1="322.70" x2="607.50" y2="308.00" stroke="#48BAEC" stroke-width="1.2"/>
<line x1="604.90" y1="308.00" x2="610.10" y2="308.00" stroke="#48BAEC" stroke-width="1.2"/>
<line x1="645.30" y1="381.20" x2="645.30" y2="361.60" stroke="#FF7F7A" stroke-width="1.2"/>
<line x1="642.70" y1="361.60" x2="647.90" y2="361.60" stroke="#FF7F7A" stroke-width="1.2"/>
<rect x="395.35" y="262.5" width="282.45" height="206.45" fill="none" stroke="#000" stroke-width="1.65"/>
<text transform="translate(390.75,472.55) scale(1,1.09)" font-size="13.3" text-anchor="end">0.04</text>
<line x1="395.35" y1="434.62" x2="400.15" y2="434.62" stroke="#000" stroke-width="1.3"/>
<text transform="translate(390.75,438.22) scale(1,1.09)" font-size="13.3" text-anchor="end">0.05</text>
<line x1="395.35" y1="400.29" x2="400.15" y2="400.29" stroke="#000" stroke-width="1.3"/>
<text transform="translate(390.75,403.89) scale(1,1.09)" font-size="13.3" text-anchor="end">0.06</text>
<line x1="395.35" y1="365.96" x2="400.15" y2="365.96" stroke="#000" stroke-width="1.3"/>
<text transform="translate(390.75,369.56) scale(1,1.09)" font-size="13.3" text-anchor="end">0.07</text>
<line x1="395.35" y1="331.63" x2="400.15" y2="331.63" stroke="#000" stroke-width="1.3"/>
<text transform="translate(390.75,335.23) scale(1,1.09)" font-size="13.3" text-anchor="end">0.08</text>
<line x1="395.35" y1="297.30" x2="400.15" y2="297.30" stroke="#000" stroke-width="1.3"/>
<text transform="translate(390.75,300.90) scale(1,1.09)" font-size="13.3" text-anchor="end">0.09</text>
<text transform="translate(390.75,266.57) scale(1,1.09)" font-size="13.3" text-anchor="end">0.10</text>
<line x1="395.35" y1="451.78" x2="398.15" y2="451.78" stroke="#000" stroke-width="1.3"/>
<line x1="395.35" y1="417.45" x2="398.15" y2="417.45" stroke="#000" stroke-width="1.3"/>
<line x1="395.35" y1="383.12" x2="398.15" y2="383.12" stroke="#000" stroke-width="1.3"/>
<line x1="395.35" y1="348.80" x2="398.15" y2="348.80" stroke="#000" stroke-width="1.3"/>
<line x1="395.35" y1="314.47" x2="398.15" y2="314.47" stroke="#000" stroke-width="1.3"/>
<line x1="395.35" y1="280.13" x2="398.15" y2="280.13" stroke="#000" stroke-width="1.3"/>
<text transform="translate(361.8,365.6) rotate(-90)" font-size="14" text-anchor="middle">AFC</text>
<rect x="450.50" y="266.20" width="25.1" height="11.7" fill="#C3C3C3" stroke="#333" stroke-width="1.1"/>
<rect x="450.50" y="280.20" width="25.1" height="11.7" fill="#48BAEC" stroke="#333" stroke-width="1.1"/>
<rect x="450.50" y="294.20" width="25.1" height="11.7" fill="#FF7F7A" stroke="#333" stroke-width="1.1"/>
<text x="478.60" y="275.70" font-size="11" text-anchor="start" >LCG</text>
<text x="478.60" y="289.70" font-size="11" text-anchor="start" >G</text>
<text x="478.60" y="303.70" font-size="11">[P<tspan font-size="6.7" dy="3.7">66614</tspan><tspan dy="-3.7">][DEHP]-G</tspan></text>
<text x="639.50" y="281.10" font-size="22.8" text-anchor="start" >(d)</text>
<text x="465.60" y="484.00" font-size="13.3" text-anchor="middle" >392N</text>
<text x="607.40" y="484.00" font-size="13.3" text-anchor="middle" >490N</text>
</svg></body></html>
